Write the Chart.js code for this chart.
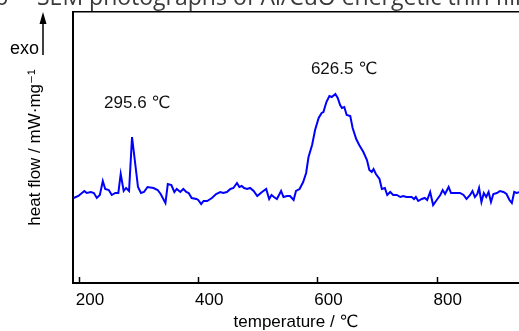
<!DOCTYPE html>
<html>
<head>
<meta charset="utf-8">
<script src="https://cdn.jsdelivr.net/npm/chart.js@4/dist/chart.umd.min.js"></script>
<style>
  html, body { margin: 0; padding: 0; background: #ffffff; overflow: hidden; }
  #wrap { position: relative; width: 519px; height: 331px; }
</style>
</head>
<body>
<div id="wrap"><canvas id="c" width="519" height="331"></canvas></div>
<script>
// ---- data ----
const temperatures = [
  191,199,209,213,220,225,230,235,240,244,
  250,255,261,266,270,275,279,284,289,295,
  299,304,309,315,325,332,337,345,349,355,
  360,364,370,375,380,384,389,397,400,405,
  409,415,423,430,437,442,448,454,459,465,
  469,473,477,482,487,493,499,507,514,519,
  523,527,532,539,543,549,554,560,564,570,
  576,581,585,591,596,602,607,610,615,620,
  624,630,634,638,641,645,649,655,659,665,
  670,677,683,687,691,694,698,704,708,713,
  717,722,727,733,739,744,749,752,758,762,
  765,769,775,780,784,789,794,800,806,810,
  814,820,824,828,834,839,845,850,856,860,
  864,868,871,875,879,883,887,891,895,901,
  906,912,917,922,926,930,934,939
];
const heatFlow = [
  0.85,0.87,0.92,0.90,0.91,0.90,0.85,0.88,1.02,0.94,
  0.93,0.88,0.90,0.90,1.09,0.92,0.95,0.92,1.46,1.16,
  0.96,0.90,0.91,0.96,0.95,0.93,0.89,0.80,0.99,0.98,
  0.91,0.94,0.91,0.94,0.91,0.90,0.85,0.84,0.83,0.79,
  0.82,0.82,0.85,0.89,0.91,0.90,0.91,0.94,0.95,1.00,
  0.96,0.97,0.95,0.94,0.95,0.92,0.87,0.91,0.94,0.84,
  0.88,0.86,0.84,0.92,0.86,0.87,0.87,0.83,0.92,0.94,
  1.01,1.10,1.26,1.38,1.53,1.65,1.70,1.71,1.81,1.87,
  1.86,1.89,1.85,1.78,1.75,1.76,1.68,1.67,1.55,1.44,
  1.38,1.31,1.23,1.13,1.11,1.14,1.09,1.04,0.94,0.95,
  0.88,0.91,0.88,0.88,0.86,0.87,0.86,0.86,0.86,0.84,
  0.86,0.82,0.84,0.85,0.83,0.91,0.78,0.83,0.88,0.93,
  0.89,0.96,0.90,0.90,0.90,0.90,0.88,0.84,0.88,0.92,
  0.86,0.89,0.95,0.81,0.90,0.86,0.91,0.81,0.89,0.90,
  0.92,0.91,0.89,0.83,0.80,0.91,0.90,0.91
];
const xTickValues = [200, 400, 600, 800];
const peakLabels = ["295.6 \u2103", "626.5 \u2103"];
const peakLabelTemps = [297.7, 644.6];
const peakLabelValues = [1.80, 2.14];

const xTitle = "temperature / \u2103";
const yTitle = "heat flow / mW\u00b7mg\u207b\u00b9";
const captionText = "SEM photographs of Al/CuO energetic thin film";

const FONT = '"Liberation Sans", Arial, "DejaVu Sans", sans-serif';

const points = temperatures.map((t, i) => ({ x: t, y: heatFlow[i] }));

const extrasPlugin = {
  id: 'extras',
  afterDraw(chart) {
    const ctx = chart.ctx;
    const xs = chart.scales.x;
    const ys = chart.scales.y;
    const area = chart.chartArea;
    ctx.save();
    // inward tick marks on the bottom axis
    ctx.strokeStyle = '#000';
    ctx.lineWidth = 1.5;
    xs.ticks.forEach(tk => {
      const px = Math.round(xs.getPixelForValue(tk.value)) + 0.5;
      ctx.beginPath();
      ctx.moveTo(px, area.bottom);
      ctx.lineTo(px, area.bottom - 6);
      ctx.stroke();
    });
    // peak labels
    ctx.fillStyle = '#111';
    ctx.font = '17px ' + FONT;
    ctx.textAlign = 'center';
    ctx.textBaseline = 'middle';
    peakLabels.forEach((txt, i) => {
      ctx.fillText(txt, xs.getPixelForValue(peakLabelTemps[i]), ys.getPixelForValue(peakLabelValues[i]));
    });
    // exo arrow
    ctx.strokeStyle = '#000';
    ctx.lineWidth = 1.5;
    ctx.beginPath();
    ctx.moveTo(43, 55);
    ctx.lineTo(43, 20);
    ctx.stroke();
    ctx.fillStyle = '#000';
    ctx.beginPath();
    ctx.moveTo(43, 12);
    ctx.lineTo(39.5, 24);
    ctx.lineTo(46.5, 24);
    ctx.closePath();
    ctx.fill();
    ctx.font = '18px ' + FONT;
    ctx.textAlign = 'right';
    ctx.textBaseline = 'alphabetic';
    ctx.fillText('exo', 39, 54);
    // clipped caption of the page above
    ctx.fillStyle = '#3a3a3a';
    ctx.font = '23px "Open Sans", "Noto Sans", sans-serif';
    ctx.textAlign = 'left';
    ctx.fillText('6', -5, 5);
    ctx.fillText(captionText, 37, 5);
    ctx.restore();
  }
};

new Chart(document.getElementById('c'), {
  type: 'line',
  data: {
    datasets: [{
      data: points,
      borderColor: 'rgb(0,0,255)',
      borderWidth: 2,
      pointRadius: 0,
      tension: 0,
      fill: false
    }]
  },
  options: {
    responsive: false,
    devicePixelRatio: 1,
    animation: false,
    events: [],
    layout: { padding: { top: 12, left: 0, right: 0, bottom: 0 } },
    plugins: { legend: { display: false }, tooltip: { enabled: false }, title: { display: false } },
    scales: {
      x: {
        type: 'linear',
        position: 'bottom',
        min: 190,
        max: 938,
        afterBuildTicks: (s) => { s.ticks = xTickValues.map(v => ({ value: v })); },
        afterFit: (s) => { s.height = 48; },
        grid: { display: true, drawOnChartArea: false, drawTicks: false },
        border: { display: true, color: '#000', width: 2 },
        ticks: {
          color: '#000',
          font: { family: FONT, size: 17 },
          padding: 7,
          labelOffset: 11,
          maxRotation: 0,
          autoSkip: false
        },
        title: {
          display: true,
          text: xTitle,
          color: '#000',
          font: { family: FONT, size: 17 },
          padding: { top: 0, bottom: -2 }
        }
      },
      x2: {
        type: 'linear',
        position: 'top',
        min: 190,
        max: 938,
        afterFit: (s) => { s.height = 0; },
        grid: { display: true, drawOnChartArea: false, drawTicks: false },
        border: { display: true, color: '#000', width: 1.5 },
        ticks: { display: false }
      },
      y: {
        type: 'linear',
        position: 'left',
        min: 0,
        max: 2.71,
        afterFit: (s) => { s.width = 73; },
        grid: { display: true, drawOnChartArea: false, drawTicks: false },
        border: { display: true, color: '#000', width: 2 },
        ticks: { display: false },
        title: {
          display: true,
          text: yTitle,
          color: '#000',
          font: { family: FONT, size: 17 },
          padding: { top: 25, bottom: 0 }
        }
      }
    }
  },
  plugins: [extrasPlugin]
});
</script>
</body>
</html>
